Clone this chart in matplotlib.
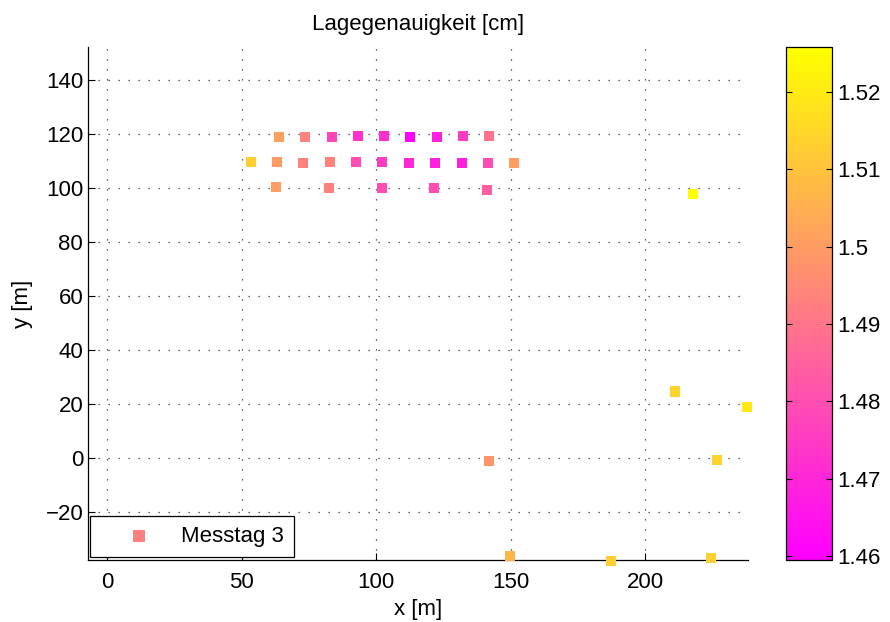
import matplotlib
matplotlib.use('Agg')
from matplotlib import pyplot as plt
from matplotlib.ticker import FormatStrFormatter

plt.rcParams['font.family'] = ['Liberation Sans', 'DejaVu Sans']
plt.rcParams['font.size'] = 16

# Messpunkte (x, y in m) und Lagegenauigkeit in cm
x_m = [63.9, 73.6, 83.6, 93.3, 103.0, 112.6, 122.7, 132.3, 142.0,
       53.5, 63.2, 72.9, 82.9, 92.6, 102.2, 112.3, 121.9, 132.0, 141.6, 151.3,
       62.8, 82.5, 102.2, 121.6, 141.3,
       217.8, 211.2, 237.8, 142.0, 226.6, 149.8, 187.4, 224.5]
y_m = [119.0, 119.0, 119.0, 119.4, 119.4, 119.0, 119.0, 119.4, 119.4,
       109.6, 109.6, 109.3, 109.6, 109.6, 109.6, 109.3, 109.3, 109.3, 109.3, 109.4,
       100.5, 100.1, 99.8, 99.8, 99.4,
       97.8, 24.6, 19.0, -1.0, -0.7, -36.5, -38.0, -36.9]
genauigkeit = [1.5006, 1.4927, 1.4775, 1.4728, 1.4712, 1.4595, 1.4680, 1.4760, 1.4890,
               1.5125, 1.4993, 1.4927, 1.4930, 1.4800, 1.4760, 1.4700, 1.4680, 1.4680, 1.4800, 1.5006,
               1.5006, 1.4927, 1.4800, 1.4800, 1.4840,
               1.5258, 1.5140, 1.5190, 1.4980, 1.5140, 1.5070, 1.5125, 1.5125]

x_ticks = [0, 50, 100, 150, 200]
y_ticks = [-20, 0, 20, 40, 60, 80, 100, 120, 140]
cb_ticks = [1.46, 1.47, 1.48, 1.49, 1.50, 1.51, 1.52]

fig = plt.figure(figsize=(8.9, 6.22), dpi=100)
ax = fig.add_axes([0.0989, 0.0997, 0.7416, 0.8248])
cax = fig.add_axes([0.8831, 0.0997, 0.0517, 0.8248])

cmap = plt.get_cmap('spring', 64)
sc = ax.scatter(x_m, y_m, c=genauigkeit, cmap=cmap, marker='s', s=52,
                linewidths=0, label='Messtag 3', clip_on=False, zorder=3)

ax.set_xlim(-7.1, 238.3)
ax.set_ylim(-37.8, 152.2)
ax.set_xticks(x_ticks)
ax.set_yticks(y_ticks)
ax.tick_params(direction='in', length=5, width=0.8, colors='black', labelsize=16)
ax.tick_params(axis='x', pad=9)
ax.spines['top'].set_visible(False)
ax.spines['right'].set_visible(False)
ax.spines['left'].set_linewidth(0.9)
ax.spines['bottom'].set_linewidth(0.9)
ax.grid(True, linestyle=(0, (1, 7)), linewidth=0.9, color='0.2')
ax.set_axisbelow(True)

ax.set_title('Lagegenauigkeit [cm]', fontsize=16, pad=12)
ax.set_xlabel('x [m]', labelpad=4)
ax.set_ylabel('y [m]', labelpad=9)

leg = ax.legend(loc='lower left', bbox_to_anchor=(0.003, 0.006), borderaxespad=0,
                fancybox=False, frameon=True, edgecolor='black', framealpha=1,
                borderpad=0.45, handlelength=3.5, handletextpad=0.15, markerscale=1.2)
leg.get_frame().set_linewidth(0.9)
leg.legend_handles[0].set_facecolor('#ff8080')
leg.legend_handles[0].set_array(None)

cb = fig.colorbar(sc, cax=cax)
cb.set_ticks(cb_ticks)
cb.ax.yaxis.set_major_formatter(FormatStrFormatter('%g'))
cb.ax.tick_params(direction='in', length=4, width=0.8, left=True, right=True, labelsize=16)
cb.outline.set_linewidth(0.9)

fig.savefig('out.png', dpi=100)
